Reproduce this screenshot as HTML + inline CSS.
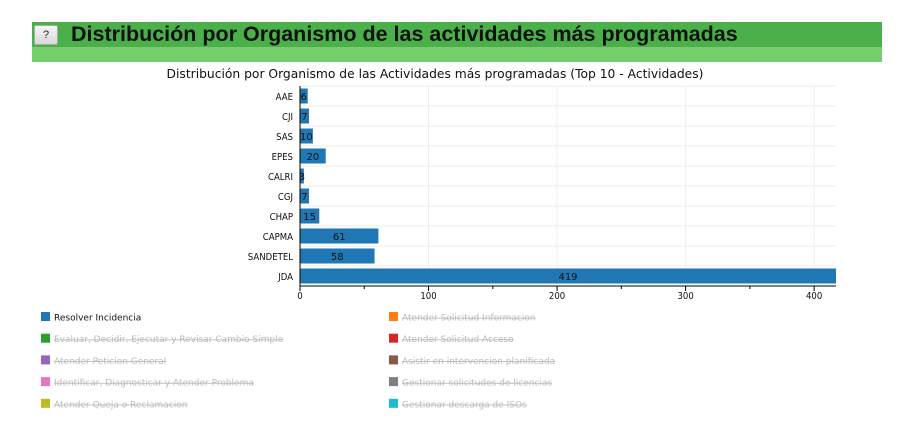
<!DOCTYPE html>
<html><head><meta charset="utf-8"><style>
body{margin:0;width:900px;height:440px;background:#fff;font-family:"Liberation Sans",sans-serif;position:relative;overflow:hidden}
.hdr{position:absolute;left:32px;top:22px;width:850px;height:25px;background:#4cb04a}
.hdr2{position:absolute;left:32px;top:47px;width:850px;height:15px;background:#74cf6c}
.btn{position:absolute;left:34px;top:25px;width:22px;height:18px;background:linear-gradient(#f6f6f6,#d8d8d8);border:1px solid #aaa;border-radius:2px;font-size:11px;text-align:center;line-height:18px;color:#222}
.ttl{position:absolute;left:71px;top:21px;font-size:21.5px;font-weight:bold;color:#111;line-height:26px}
</style></head><body>
<div class="hdr"></div>
<div class="hdr2"></div>
<div class="btn">?</div>
<div class="ttl">Distribución por Organismo de las actividades más programadas</div>
<svg id="chart" width="900" height="440" style="position:absolute;left:0;top:0"></svg>
<script>
const categories=["AAE","CJI","SAS","EPES","CALRI","CGJ","CHAP","CAPMA","SANDETEL","JDA"];
const values=[6,7,10,20,3,7,15,61,58,419];
const ticks=[0,100,200,300,400];
const legendLabels=["Resolver Incidencia","Atender Solicitud Informacion","Evaluar, Decidir, Ejecutar y Revisar Cambio Simple","Atender Solicitud Acceso","Atender Peticion General","Asistir en intervencion planificada","Identificar, Diagnosticar y Atender Problema","Gestionar solicitudes de licencias","Atender Queja o Reclamacion","Gestionar descarga de ISOs"];
const legendColors=["#1f77b4","#ff7f0e","#2ca02c","#d62728","#9467bd","#8c564b","#e377c2","#7f7f7f","#bcbd22","#17becf"];
const NS="http://www.w3.org/2000/svg";
const svg=document.getElementById('chart');
const L=300,R=836,T=86,B=286,MAX=417;
const x=v=>L+v/MAX*(R-L);
const band=(B-T)/categories.length;
const y=i=>T+i*band;
function mk(t,a,p){const e=document.createElementNS(NS,t);for(const k in a)e.setAttribute(k,a[k]);(p||svg).appendChild(e);return e;}
let t=mk('text',{x:435,y:78,'text-anchor':'middle','font-size':12.3,fill:'#111','font-family':'DejaVu Sans, sans-serif'});


t.textContent="Distribución por Organismo de las Actividades más programadas (Top 10 - Actividades)";
const defs=mk('defs',{});const cp=mk('clipPath',{id:'c'},defs);mk('rect',{x:L,y:T,width:R-L,height:B-T},cp);
ticks.forEach(v=>{const g=mk('line',{x1:x(v),x2:x(v),y1:T,y2:B,stroke:'#eee'});

});
categories.forEach((c,i)=>{const g=mk('line',{x1:L,x2:R,y1:y(i),y2:y(i),stroke:'#eee'});

});
const gb=mk('g',{'clip-path':'url(#c)'});
categories.forEach((c,i)=>{
 const r=mk('rect',{x:L,y:y(i)+2.5,width:x(values[i])-L,height:band-5,fill:'#1f77b4'},gb);
 
 
 const vt=mk('text',{x:(L+Math.min(x(values[i]),R))/2,y:y(i)+band/2+4,'text-anchor':'middle','font-size':10,fill:'#111','font-family':'DejaVu Sans, sans-serif'});
 
 
 vt.textContent=values[i];
 const lt=mk('text',{x:293,y:y(i)+band/2+4,'text-anchor':'end','font-size':9.5,fill:'#111','font-family':'DejaVu Sans Condensed, DejaVu Sans, sans-serif'});
 
 
 lt.textContent=c;
});
mk('line',{x1:L,x2:L,y1:T,y2:B,stroke:'#000'});
mk('line',{x1:L,x2:R,y1:B,y2:B,stroke:'#000'});
ticks.forEach(v=>{mk('line',{x1:x(v),x2:x(v),y1:B,y2:B+5,stroke:'#000'});
 if(x(v+50)<=R) mk('line',{x1:x(v+50),x2:x(v+50),y1:B,y2:B+3,stroke:'#000'});
 const tt=mk('text',{x:x(v),y:B+13,'text-anchor':'middle','font-size':9.5,fill:'#111','font-family':'DejaVu Sans Condensed, DejaVu Sans, sans-serif'});
 
 
 tt.textContent=v;});
legendLabels.forEach((s,i)=>{
 const col=i%2,row=Math.floor(i/2);
 const lx=col?389:41,ly=312+row*21.7;
 const g=mk('g',{});
 
 
 mk('rect',{x:lx,y:ly,width:9,height:9,fill:legendColors[i]},g);
 const tx=mk('text',{x:lx+13,y:ly+8.5,'font-size':9,fill:i===0?'#111':'#bbb','text-decoration':i===0?'none':'line-through','font-family':'DejaVu Sans, sans-serif'},g);
 tx.textContent=s;
});
</script>
</body></html>
